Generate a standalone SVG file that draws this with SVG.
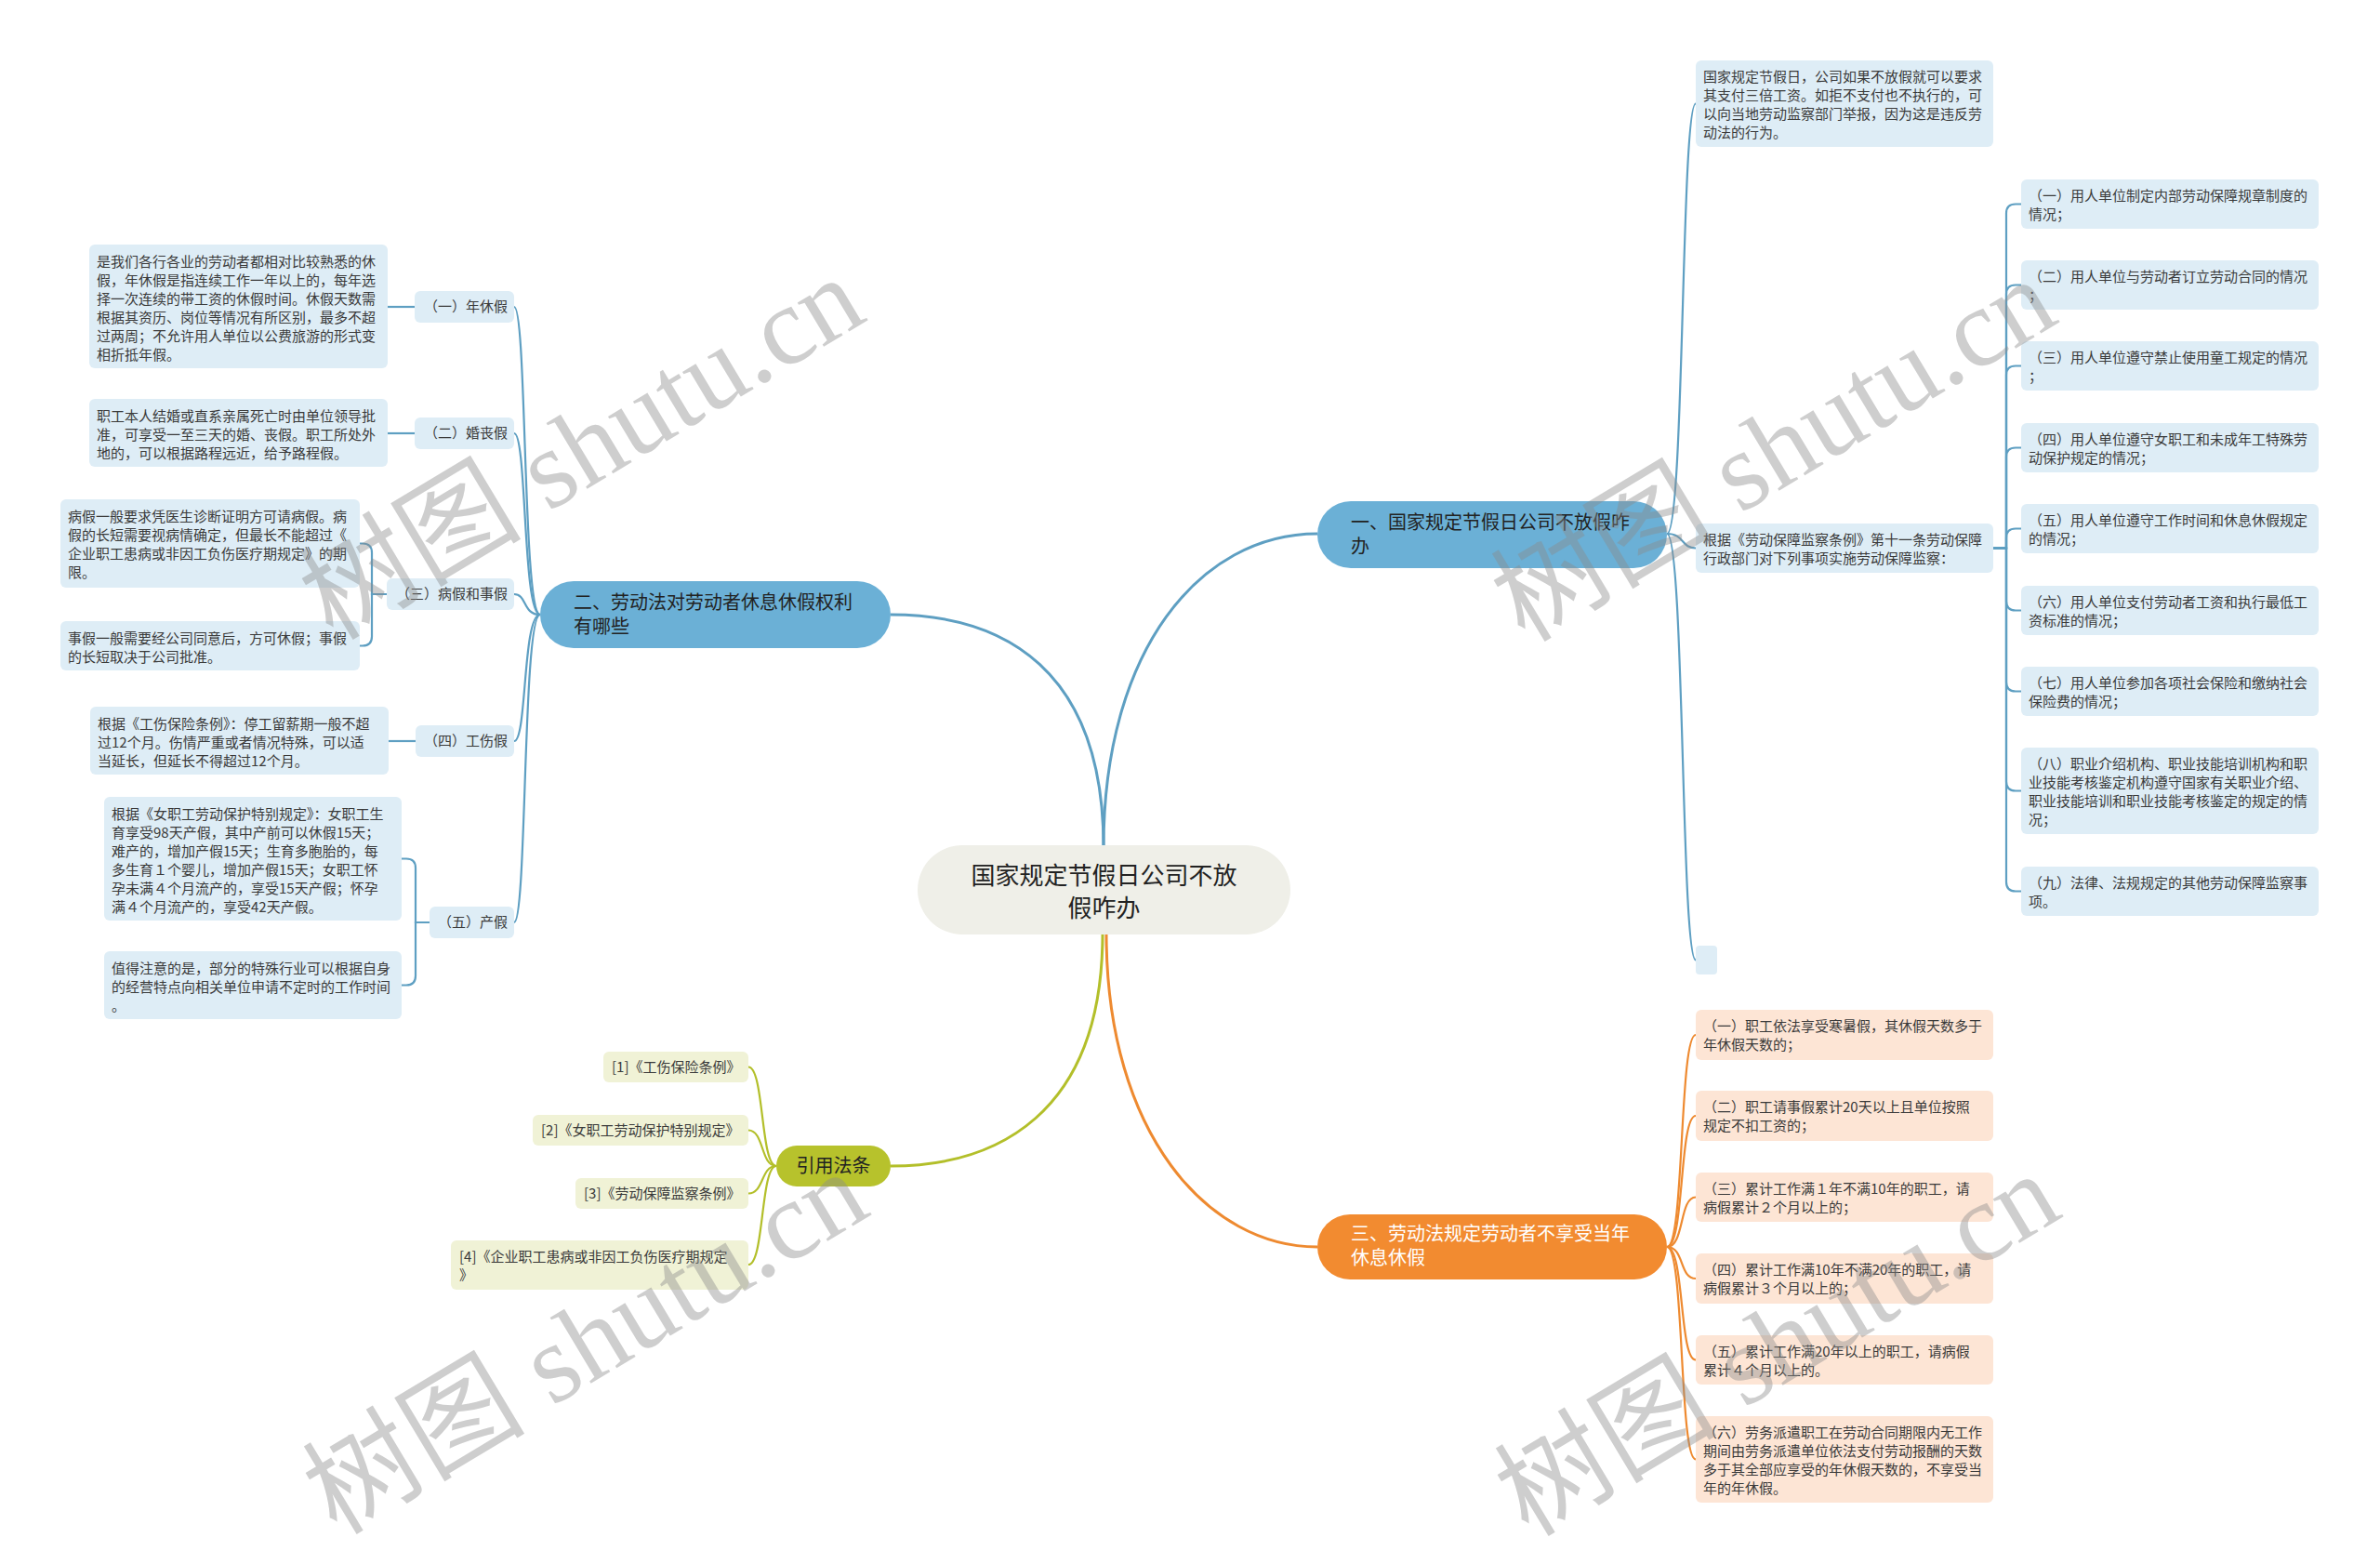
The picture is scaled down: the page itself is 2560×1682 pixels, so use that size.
<svg xmlns="http://www.w3.org/2000/svg" width="2560" height="1682" viewBox="0 0 2560 1682">
<style>
text{font-family:"Noto Sans CJK SC","Noto Sans",sans-serif;}
.t{font-size:15px;fill:#3a3a3a;}
.tb{font-size:20px;fill:#222;}
.tw{font-size:20px;fill:#ffffff;}
.tr{font-size:26px;fill:#222;}
.nb{fill:#deedf6;}
.no{fill:#fde5d5;}
.ng{fill:#f0f2d6;}
.cb{fill:none;stroke:#5e9fc2;stroke-width:2.2;}
.co{fill:none;stroke:#ee8a30;stroke-width:2.2;}
.cg{fill:none;stroke:#b3bf2a;stroke-width:2.2;}
.m{stroke-width:3;}
.wm{font-family:"Liberation Serif","Noto Sans CJK SC",serif;font-size:120px;fill:#8c8c8c;opacity:0.42;}
</style>
<rect width="2560" height="1682" fill="#ffffff"/>

<g id="connectors">
  <path class="cb m" d="M1187,911 C1187,700 1290,574 1417,574"/>
  <path class="cb m" d="M1187,911 C1187,720 1080,661 958,661"/>
  <path class="co m" d="M1190,1004 C1190,1220 1300,1341 1417,1341"/>
  <path class="cg m" d="M1186,1004 C1186,1200 1070,1254 958,1254"/>

  <path class="cb" d="M1793,574 C1812,574 1808,111.5 1824,111.5"/>
  <path class="cb" d="M1793,574 C1812,574 1808,589.5 1824,589.5"/>
  <path class="cb" d="M1793,574 C1812,574 1808,1032.5 1824,1032.5"/>

  <path class="cb" d="M2144,589.5 H2158 V229.5 Q2158,219.5 2168,219.5 H2174"/>
  <path class="cb" d="M2144,589.5 H2158 V316.5 Q2158,306.5 2168,306.5 H2174"/>
  <path class="cb" d="M2144,589.5 H2158 V403.5 Q2158,393.5 2168,393.5 H2174"/>
  <path class="cb" d="M2144,589.5 H2158 V491.5 Q2158,481.5 2168,481.5 H2174"/>
  <path class="cb" d="M2144,589.5 H2158 V578.5 Q2158,568.5 2168,568.5 H2174"/>
  <path class="cb" d="M2144,589.5 H2158 V646.5 Q2158,656.5 2168,656.5 H2174"/>
  <path class="cb" d="M2144,589.5 H2158 V733.5 Q2158,743.5 2168,743.5 H2174"/>
  <path class="cb" d="M2144,589.5 H2158 V840.5 Q2158,850.5 2168,850.5 H2174"/>
  <path class="cb" d="M2144,589.5 H2158 V948.5 Q2158,958.5 2168,958.5 H2174"/>

  <path class="co" d="M1793,1341 C1812,1341 1806,1113 1824,1113"/>
  <path class="co" d="M1793,1341 C1812,1341 1806,1200 1824,1200"/>
  <path class="co" d="M1793,1341 C1812,1341 1806,1287.5 1824,1287.5"/>
  <path class="co" d="M1793,1341 C1812,1341 1806,1375 1824,1375"/>
  <path class="co" d="M1793,1341 C1812,1341 1806,1462.5 1824,1462.5"/>
  <path class="co" d="M1793,1341 C1812,1341 1806,1569.5 1824,1569.5"/>

  <path class="cb" d="M581,661 C562,661 567,330 553,330"/>
  <path class="cb" d="M581,661 C562,661 567,466 553,466"/>
  <path class="cb" d="M581,661 C562,661 567,639 553,639"/>
  <path class="cb" d="M581,661 C562,661 567,797 553,797"/>
  <path class="cb" d="M581,661 C562,661 567,992 553,992"/>

  <path class="cb" d="M446,330 H417"/>
  <path class="cb" d="M446,466 H417"/>
  <path class="cb" d="M416,639 H400 V594.5 Q400,584.5 390,584.5 H387"/>
  <path class="cb" d="M416,639 H400 V684.5 Q400,694.5 390,694.5 H387"/>
  <path class="cb" d="M447,797 H418"/>
  <path class="cb" d="M462,992 H447 V933.5 Q447,923.5 437,923.5 H432"/>
  <path class="cb" d="M462,992 H447 V1049.5 Q447,1059.5 437,1059.5 H432"/>

  <path class="cg" d="M835,1254 C818,1254 822,1147.5 805,1147.5"/>
  <path class="cg" d="M835,1254 C818,1254 822,1215.5 805,1215.5"/>
  <path class="cg" d="M835,1254 C818,1254 822,1283.5 805,1283.5"/>
  <path class="cg" d="M835,1254 C818,1254 822,1360 805,1360"/>
</g>

<g id="root">
  <rect x="987" y="909" width="401" height="96" rx="48" fill="#efefe8"/>
  <text class="tr" x="1187.5" y="951" text-anchor="middle">国家规定节假日公司不放</text>
  <text class="tr" x="1187.5" y="986" text-anchor="middle">假咋办</text>
</g>

<g id="b1">
  <rect x="1417" y="539" width="376" height="72" rx="36" fill="#6bb0d6"/>
  <text class="tb" x="1453" y="569">一、国家规定节假日公司不放假咋</text>
  <text class="tb" x="1453" y="595">办</text>
</g>
<g id="b2">
  <rect x="581" y="625" width="377" height="72" rx="36" fill="#6bb0d6"/>
  <text class="tb" x="617" y="655">二、劳动法对劳动者休息休假权利</text>
  <text class="tb" x="617" y="681">有哪些</text>
</g>
<g id="b3">
  <rect x="1417" y="1306" width="376" height="70" rx="35" fill="#f28b30"/>
  <text class="tw" x="1453" y="1334">三、劳动法规定劳动者不享受当年</text>
  <text class="tw" x="1453" y="1360">休息休假</text>
</g>
<g id="b4">
  <rect x="835" y="1232" width="123" height="44" rx="22" fill="#b7c22c"/>
  <text class="tb" x="896.5" y="1261" text-anchor="middle">引用法条</text>
</g>

<g id="b1-a">
  <rect class="nb" x="1824" y="65" width="320" height="93" rx="6"/>
  <text class="t" x="1832" y="88">国家规定节假日，公司如果不放假就可以要求</text>
  <text class="t" x="1832" y="108">其支付三倍工资。如拒不支付也不执行的，可</text>
  <text class="t" x="1832" y="128">以向当地劳动监察部门举报，因为这是违反劳</text>
  <text class="t" x="1832" y="148">动法的行为。</text>
</g>
<g id="b1-b">
  <rect class="nb" x="1824" y="563" width="320" height="53" rx="6"/>
  <text class="t" x="1832" y="586">根据《劳动保障监察条例》第十一条劳动保障</text>
  <text class="t" x="1832" y="606">行政部门对下列事项实施劳动保障监察：</text>
</g>
<g id="b1-c">
  <rect class="nb" x="1824" y="1017" width="23" height="31" rx="4"/>
</g>

<g id="b1-b-1">
  <rect class="nb" x="2174" y="193" width="320" height="53" rx="6"/>
  <text class="t" x="2182" y="216">（一）用人单位制定内部劳动保障规章制度的</text>
  <text class="t" x="2182" y="236">情况；</text>
</g>
<g id="b1-b-2">
  <rect class="nb" x="2174" y="280" width="320" height="53" rx="6"/>
  <text class="t" x="2182" y="303">（二）用人单位与劳动者订立劳动合同的情况</text>
  <text class="t" x="2182" y="323">；</text>
</g>
<g id="b1-b-3">
  <rect class="nb" x="2174" y="367" width="320" height="53" rx="6"/>
  <text class="t" x="2182" y="390">（三）用人单位遵守禁止使用童工规定的情况</text>
  <text class="t" x="2182" y="410">；</text>
</g>
<g id="b1-b-4">
  <rect class="nb" x="2174" y="455" width="320" height="53" rx="6"/>
  <text class="t" x="2182" y="478">（四）用人单位遵守女职工和未成年工特殊劳</text>
  <text class="t" x="2182" y="498">动保护规定的情况；</text>
</g>
<g id="b1-b-5">
  <rect class="nb" x="2174" y="542" width="320" height="53" rx="6"/>
  <text class="t" x="2182" y="565">（五）用人单位遵守工作时间和休息休假规定</text>
  <text class="t" x="2182" y="585">的情况；</text>
</g>
<g id="b1-b-6">
  <rect class="nb" x="2174" y="630" width="320" height="53" rx="6"/>
  <text class="t" x="2182" y="653">（六）用人单位支付劳动者工资和执行最低工</text>
  <text class="t" x="2182" y="673">资标准的情况；</text>
</g>
<g id="b1-b-7">
  <rect class="nb" x="2174" y="717" width="320" height="53" rx="6"/>
  <text class="t" x="2182" y="740">（七）用人单位参加各项社会保险和缴纳社会</text>
  <text class="t" x="2182" y="760">保险费的情况；</text>
</g>
<g id="b1-b-8">
  <rect class="nb" x="2174" y="804" width="320" height="93" rx="6"/>
  <text class="t" x="2182" y="827">（八）职业介绍机构、职业技能培训机构和职</text>
  <text class="t" x="2182" y="847">业技能考核鉴定机构遵守国家有关职业介绍、</text>
  <text class="t" x="2182" y="867">职业技能培训和职业技能考核鉴定的规定的情</text>
  <text class="t" x="2182" y="887">况；</text>
</g>
<g id="b1-b-9">
  <rect class="nb" x="2174" y="932" width="320" height="53" rx="6"/>
  <text class="t" x="2182" y="955">（九）法律、法规规定的其他劳动保障监察事</text>
  <text class="t" x="2182" y="975">项。</text>
</g>

<g id="b3-1">
  <rect class="no" x="1824" y="1086" width="320" height="54" rx="6"/>
  <text class="t" x="1832" y="1109">（一）职工依法享受寒暑假，其休假天数多于</text>
  <text class="t" x="1832" y="1129">年休假天数的；</text>
</g>
<g id="b3-2">
  <rect class="no" x="1824" y="1173" width="320" height="54" rx="6"/>
  <text class="t" x="1832" y="1196">（二）职工请事假累计20天以上且单位按照</text>
  <text class="t" x="1832" y="1216">规定不扣工资的；</text>
</g>
<g id="b3-3">
  <rect class="no" x="1824" y="1261" width="320" height="53" rx="6"/>
  <text class="t" x="1832" y="1284">（三）累计工作满１年不满10年的职工，请</text>
  <text class="t" x="1832" y="1304">病假累计２个月以上的；</text>
</g>
<g id="b3-4">
  <rect class="no" x="1824" y="1348" width="320" height="54" rx="6"/>
  <text class="t" x="1832" y="1371">（四）累计工作满10年不满20年的职工，请</text>
  <text class="t" x="1832" y="1391">病假累计３个月以上的；</text>
</g>
<g id="b3-5">
  <rect class="no" x="1824" y="1436" width="320" height="53" rx="6"/>
  <text class="t" x="1832" y="1459">（五）累计工作满20年以上的职工，请病假</text>
  <text class="t" x="1832" y="1479">累计４个月以上的。</text>
</g>
<g id="b3-6">
  <rect class="no" x="1824" y="1523" width="320" height="93" rx="6"/>
  <text class="t" x="1832" y="1546">（六）劳务派遣职工在劳动合同期限内无工作</text>
  <text class="t" x="1832" y="1566">期间由劳务派遣单位依法支付劳动报酬的天数</text>
  <text class="t" x="1832" y="1586">多于其全部应享受的年休假天数的，不享受当</text>
  <text class="t" x="1832" y="1606">年的年休假。</text>
</g>

<g id="b2-1">
  <rect class="nb" x="446" y="313" width="107" height="34" rx="6"/>
  <text class="t" x="546" y="335" text-anchor="end">（一）年休假</text>
</g>
<g id="b2-1-a">
  <rect class="nb" x="96" y="263" width="321" height="133" rx="6"/>
  <text class="t" x="104" y="287">是我们各行各业的劳动者都相对比较熟悉的休</text>
  <text class="t" x="104" y="307">假，年休假是指连续工作一年以上的，每年选</text>
  <text class="t" x="104" y="327">择一次连续的带工资的休假时间。休假天数需</text>
  <text class="t" x="104" y="347">根据其资历、岗位等情况有所区别，最多不超</text>
  <text class="t" x="104" y="367">过两周；不允许用人单位以公费旅游的形式变</text>
  <text class="t" x="104" y="387">相折抵年假。</text>
</g>
<g id="b2-2">
  <rect class="nb" x="446" y="449" width="107" height="34" rx="6"/>
  <text class="t" x="546" y="471" text-anchor="end">（二）婚丧假</text>
</g>
<g id="b2-2-a">
  <rect class="nb" x="96" y="429" width="321" height="73" rx="6"/>
  <text class="t" x="104" y="453">职工本人结婚或直系亲属死亡时由单位领导批</text>
  <text class="t" x="104" y="473">准，可享受一至三天的婚、丧假。职工所处外</text>
  <text class="t" x="104" y="493">地的，可以根据路程远近，给予路程假。</text>
</g>
<g id="b2-3">
  <rect class="nb" x="416" y="622" width="137" height="34" rx="6"/>
  <text class="t" x="546" y="644" text-anchor="end">（三）病假和事假</text>
</g>
<g id="b2-3-a">
  <rect class="nb" x="65" y="537" width="322" height="95" rx="6"/>
  <text class="t" x="73" y="561">病假一般要求凭医生诊断证明方可请病假。病</text>
  <text class="t" x="73" y="581">假的长短需要视病情确定，但最长不能超过《</text>
  <text class="t" x="73" y="601">企业职工患病或非因工负伤医疗期规定》的期</text>
  <text class="t" x="73" y="621">限。</text>
</g>
<g id="b2-3-b">
  <rect class="nb" x="65" y="668" width="322" height="53" rx="6"/>
  <text class="t" x="73" y="692">事假一般需要经公司同意后，方可休假；事假</text>
  <text class="t" x="73" y="712">的长短取决于公司批准。</text>
</g>
<g id="b2-4">
  <rect class="nb" x="447" y="780" width="106" height="34" rx="6"/>
  <text class="t" x="546" y="802" text-anchor="end">（四）工伤假</text>
</g>
<g id="b2-4-a">
  <rect class="nb" x="97" y="760" width="321" height="73" rx="6"/>
  <text class="t" x="105" y="784">根据《工伤保险条例》：停工留薪期一般不超</text>
  <text class="t" x="105" y="804">过12个月。伤情严重或者情况特殊，可以适</text>
  <text class="t" x="105" y="824">当延长，但延长不得超过12个月。</text>
</g>
<g id="b2-5">
  <rect class="nb" x="462" y="975" width="91" height="34" rx="6"/>
  <text class="t" x="546" y="997" text-anchor="end">（五）产假</text>
</g>
<g id="b2-5-a">
  <rect class="nb" x="112" y="857" width="320" height="133" rx="6"/>
  <text class="t" x="120" y="881">根据《女职工劳动保护特别规定》：女职工生</text>
  <text class="t" x="120" y="901">育享受98天产假，其中产前可以休假15天；</text>
  <text class="t" x="120" y="921">难产的，增加产假15天；生育多胞胎的，每</text>
  <text class="t" x="120" y="941">多生育１个婴儿，增加产假15天；女职工怀</text>
  <text class="t" x="120" y="961">孕未满４个月流产的，享受15天产假；怀孕</text>
  <text class="t" x="120" y="981">满４个月流产的，享受42天产假。</text>
</g>
<g id="b2-5-b">
  <rect class="nb" x="112" y="1023" width="320" height="73" rx="6"/>
  <text class="t" x="120" y="1047">值得注意的是，部分的特殊行业可以根据自身</text>
  <text class="t" x="120" y="1067">的经营特点向相关单位申请不定时的工作时间</text>
  <text class="t" x="120" y="1087">。</text>
</g>

<g id="b4-1">
  <rect class="ng" x="649" y="1131" width="156" height="33" rx="6"/>
  <text class="t" x="658" y="1153">[1]《工伤保险条例》</text>
</g>
<g id="b4-2">
  <rect class="ng" x="573" y="1199" width="232" height="33" rx="6"/>
  <text class="t" x="582" y="1221">[2]《女职工劳动保护特别规定》</text>
</g>
<g id="b4-3">
  <rect class="ng" x="619" y="1267" width="186" height="33" rx="6"/>
  <text class="t" x="628" y="1289">[3]《劳动保障监察条例》</text>
</g>
<g id="b4-4">
  <rect class="ng" x="485" y="1334" width="320" height="53" rx="6"/>
  <text class="t" x="494" y="1357">[4]《企业职工患病或非因工负伤医疗期规定</text>
  <text class="t" x="494" y="1377">》</text>
</g>

<g id="watermarks">
  <text class="wm" x="358" y="690" transform="rotate(-31 358 690)">树图 shutu.cn</text>
  <text class="wm" x="1640" y="692" transform="rotate(-31 1640 692)">树图 shutu.cn</text>
  <text class="wm" x="362" y="1652" transform="rotate(-31 362 1652)">树图 shutu.cn</text>
  <text class="wm" x="1644" y="1654" transform="rotate(-31 1644 1654)">树图 shutu.cn</text>
</g>
</svg>
